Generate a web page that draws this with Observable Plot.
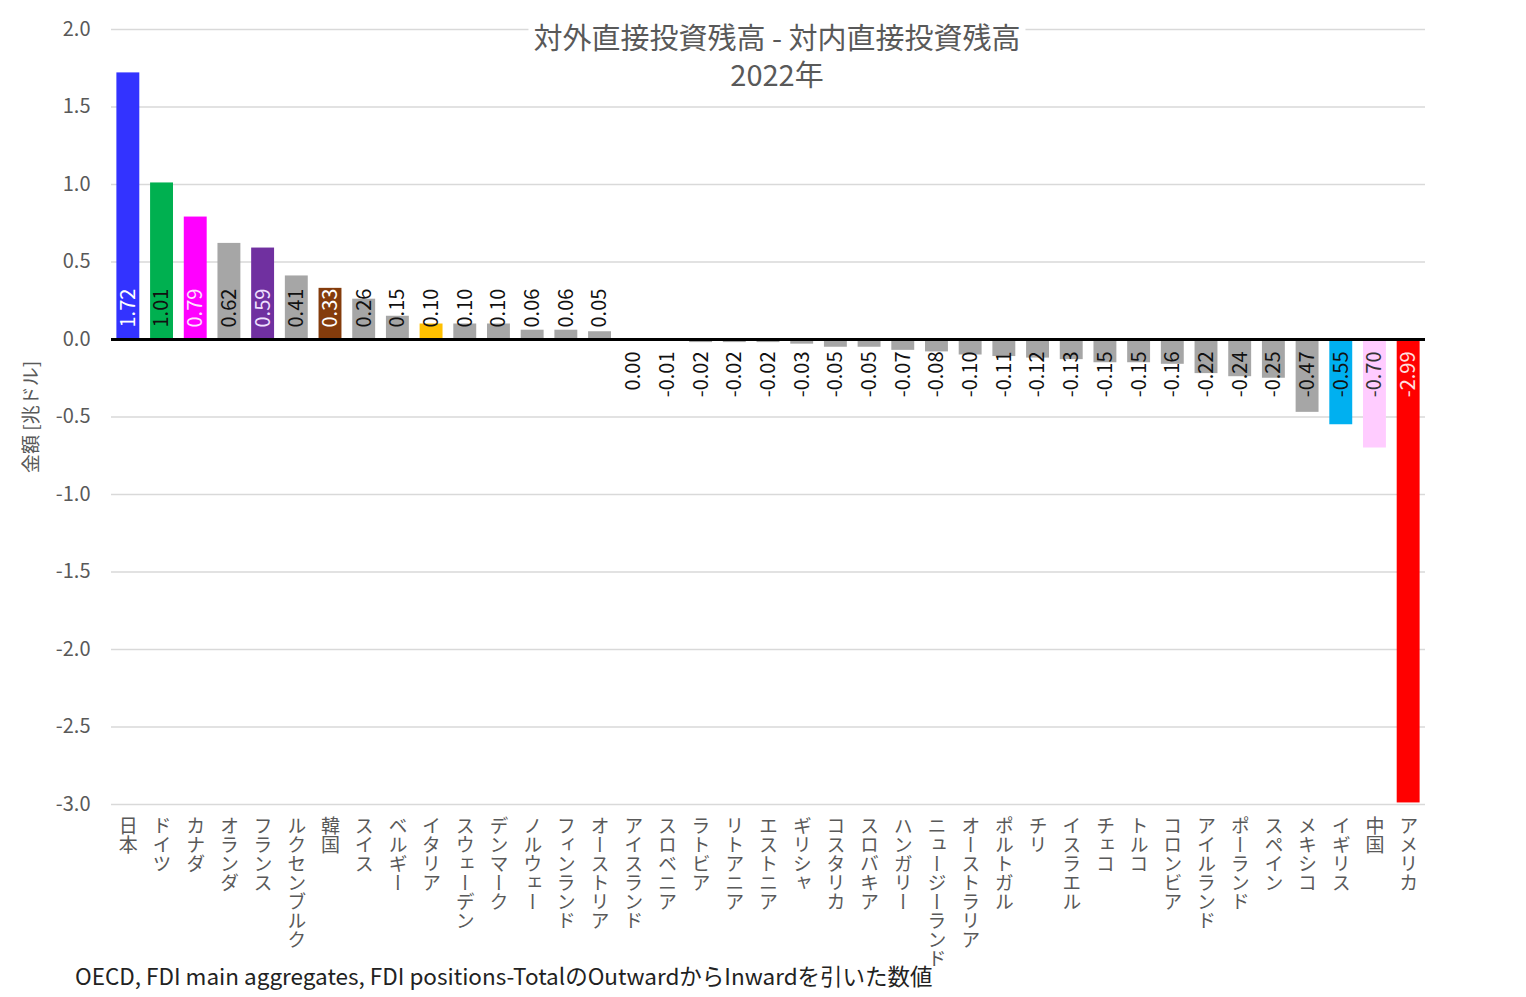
<!DOCTYPE html>
<html><head><meta charset="utf-8">
<script src="https://cdn.jsdelivr.net/npm/d3@7"></script>
<script src="https://cdn.jsdelivr.net/npm/@observablehq/plot@0.6"></script>
<style>
body{margin:0;background:#fff;font-family:"Noto Sans CJK JP",sans-serif;}
#wrap{position:relative;width:1526px;height:997px;overflow:hidden;}
.t{position:absolute;left:777px;transform:translateX(-50%);text-align:center;font-size:29px;line-height:32px;color:#595959;white-space:nowrap;}
#title1{top:20px;background:#fff;padding:0 5px;}
#title2{top:57px;}
#caption{position:absolute;left:75px;top:960px;font-size:22.5px;line-height:30px;color:#222;white-space:nowrap;}
</style></head><body>
<div id="wrap"><div id="chart"></div>
<div id="title1" class="t">対外直接投資残高 - 対内直接投資残高</div>
<div id="title2" class="t">2022年</div>
<div id="caption">OECD, FDI main aggregates, FDI positions-TotalのOutwardからInwardを引いた数値</div>
</div>
<script>
const countries = ["日本","ドイツ","カナダ","オランダ","フランス","ルクセンブルク","韓国","スイス","ベルギー","イタリア","スウェーデン","デンマーク","ノルウェー","フィンランド","オーストリア","アイスランド","スロベニア","ラトビア","リトアニア","エストニア","ギリシャ","コスタリカ","スロバキア","ハンガリー","ニュージーランド","オーストラリア","ポルトガル","チリ","イスラエル","チェコ","トルコ","コロンビア","アイルランド","ポーランド","スペイン","メキシコ","イギリス","中国","アメリカ"];
const values = [1.72,1.01,0.79,0.62,0.59,0.41,0.33,0.26,0.15,0.10,0.10,0.10,0.06,0.06,0.05,0.00,-0.01,-0.02,-0.02,-0.02,-0.03,-0.05,-0.05,-0.07,-0.08,-0.10,-0.11,-0.12,-0.13,-0.15,-0.15,-0.16,-0.22,-0.24,-0.25,-0.47,-0.55,-0.70,-2.99];
const yTicks = [-3,-2.5,-2,-1.5,-1,-0.5,0,0.5,1,1.5,2];
const yLabel = "金額 [兆ドル]";

// style maps
const barColor = {"日本":"#3333FF","ドイツ":"#00B050","カナダ":"#FF00FF","フランス":"#7030A0","韓国":"#843C0C","イタリア":"#FFC000","イギリス":"#00B0F0","中国":"#FFCCFF","アメリカ":"#FF0000"};
const labelColor = {"日本":"#ffffff","カナダ":"#ffe0ff","フランス":"#f0e0ff","韓国":"#ffffff","アメリカ":"#ffe0e0","中国":"#333333"};
const defaultBar = "#A6A6A6";

const data = countries.map((c,i)=>({country:c, value:values[i]}));
const font = '"Noto Sans CJK JP", sans-serif';

const plot = Plot.plot({
  width: 1526, height: 976,
  marginLeft: 111, marginRight: 101, marginTop: 29, marginBottom: 172,
  style: {fontFamily: font, background: "transparent"},
  x: {domain: countries, paddingInner: 0.32, paddingOuter: 0.16, round: false, axis: null},
  y: {domain: [-3, 2], axis: null},
  color: {type: "identity"},
  marks: [
    Plot.ruleY(yTicks, {stroke: "#D9D9D9", strokeWidth: 1.5}),
    Plot.axisY({ticks: yTicks, label: null, tickSize: 0, tickPadding: 21, tickFormat: d => d.toFixed(1), fontSize: 20, fill: "#595959"}),
    Plot.barY(data, {x: "country", y: "value", fill: d => barColor[d.country] || defaultBar}),
    Plot.ruleY([0], {stroke: "#000", strokeWidth: 3}),
    Plot.text(data.filter(d => d.value > 0), {x: "country", y: 0, text: d => d.value.toFixed(2), rotate: -90, textAnchor: "start", dy: -12, fontSize: 20, fill: d => labelColor[d.country] || "#111"}),
    Plot.text(data.filter(d => d.value <= 0), {x: "country", y: 0, text: d => d.value.toFixed(2), rotate: -90, textAnchor: "end", dy: 12, fontSize: 20, fill: d => labelColor[d.country] || "#111"}),
    Plot.text(countries, {x: d => d, frameAnchor: "bottom", dy: 12, textAnchor: "start", fontSize: 19, fill: "#595959"}),
    Plot.text([yLabel], {frameAnchor: "left", rotate: -90, textAnchor: "middle", dx: -80, fontSize: 19, fill: "#595959"})
  ]
});
plot.style.background = "#fff";
document.getElementById("chart").appendChild(plot);
const cset = new Set(countries);
d3.select(plot).selectAll("text")
  .filter(function() { return cset.has(this.textContent); })
  .attr("y", null).attr("dy", null)
  .style("writing-mode", "vertical-rl")
  .style("text-orientation", "mixed");
</script>
</body></html>
